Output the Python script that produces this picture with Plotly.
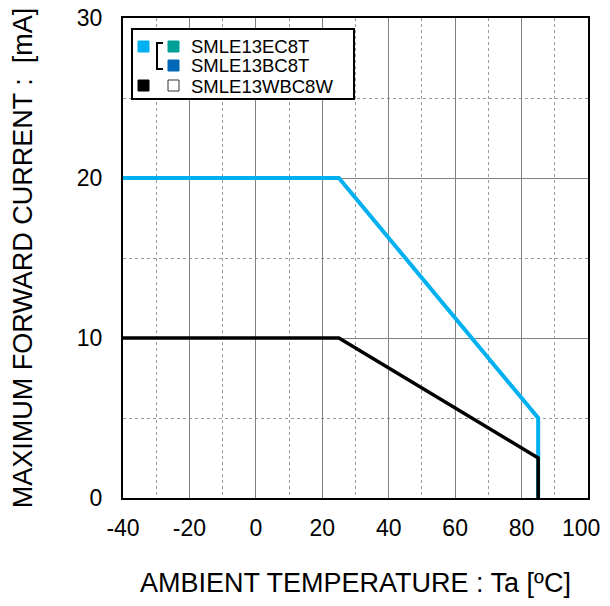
import plotly.graph_objects as go

temp_blue = [-40, 25, 85, 85]
current_blue = [20, 20, 5, 0]
temp_white = [-40, 25, 85, 85]
current_white = [10, 10, 2.5, 0]

x_ticks = [-40, -20, 0, 20, 40, 60, 80, 100]
x_ticktext = ["-40", "-20", "0", "20", "40", "60", "80", "100"]
y_ticks = [0, 10, 20, 30]
y_ticktext = ["0", "10", "20", "30"]

legend_labels = ["SMLE13EC8T", "SMLE13BC8T", "SMLE13WBC8W"]

BLUE = "#00B0F0"
TEAL = "#00A096"
DBLUE = "#0068B7"

fig = go.Figure()
fig.add_trace(go.Scatter(x=temp_blue, y=current_blue, mode="lines",
                         line=dict(color=BLUE, width=4), showlegend=False))
fig.add_trace(go.Scatter(x=temp_white, y=current_white, mode="lines",
                         line=dict(color="black", width=3.5), showlegend=False))

# page body has an 8px margin; figure is sized so the page does not overflow
OFF = 8
FW, FH = 610 - OFF, 606 - 2 * OFF
L, R, T, B = 123, 588, 18, 498  # plot area in window pixels
W, H = R - L, B - T
def px(x):
    return (x - L) / W
def py(y):
    return (B - y) / H

shapes = []
shapes.append(dict(type="rect", xref="paper", yref="paper", x0=px(132), x1=px(354),
                   y0=py(99), y1=py(29), line=dict(color="black", width=2), fillcolor="white", layer="above"))
def sq(x0, y0, color, line=None):
    shapes.append(dict(type="rect", xref="paper", yref="paper", x0=px(x0), x1=px(x0 + 11),
                       y0=py(y0 + 11), y1=py(y0), fillcolor=color,
                       line=dict(color=line or color, width=1), layer="above"))
sq(138, 41, BLUE)
sq(168, 41, TEAL)
sq(168, 60, DBLUE)
sq(138, 80, "black")
sq(168, 80, "white", "#333333")
shapes.append(dict(type="path", xref="paper", yref="paper",
                   path=f"M {px(163)} {py(43)} L {px(157)} {py(43)} L {px(157)} {py(69)} L {px(163)} {py(69)}",
                   line=dict(color="black", width=2), layer="above"))

annotations = []
for lab, yc in zip(legend_labels, [46, 66, 86]):
    annotations.append(dict(text=lab, xref="paper", yref="paper", x=px(189), y=py(yc),
                            xanchor="left", yanchor="middle", showarrow=False,
                            font=dict(size=18.5, color="black", family="Liberation Sans")))

# the last x tick label sits at the right window edge; draw it nudged inward so it is not clipped
tick_text_axis = x_ticktext[:-1] + [""]
annotations.append(dict(text=x_ticktext[-1], xref="x", yref="paper", x=x_ticks[-1], y=0,
                        xanchor="center", yanchor="middle", xshift=-7, yshift=-30, showarrow=False,
                        font=dict(size=23, color="black", family="Liberation Sans")))

fig.update_layout(
    width=FW, height=FH,
    margin=dict(l=L - OFF, r=610 - R, t=T - OFF, b=FH - (B - OFF), pad=0),
    plot_bgcolor="white", paper_bgcolor="white",
    font=dict(family="Liberation Sans", size=23, color="black"),
    shapes=shapes, annotations=annotations,
    xaxis=dict(range=[-40, 100], tickmode="array", tickvals=x_ticks, ticktext=tick_text_axis,
               showgrid=True, gridcolor="#808080", gridwidth=1,
               minor=dict(dtick=10, tick0=-30, showgrid=True, gridcolor="#999999", griddash="dot", gridwidth=1),
               showline=True, linecolor="black", linewidth=2, mirror=True, zeroline=False,
               ticks="", ticklabelstandoff=8, tickfont=dict(size=23), automargin=False,
               ticklabeloverflow="allow",
               title=dict(text="AMBIENT TEMPERATURE : Ta [ºC]", font=dict(size=27), standoff=36)),
    yaxis=dict(range=[0, 30], tickmode="array", tickvals=y_ticks, ticktext=y_ticktext,
               showgrid=True, gridcolor="#808080", gridwidth=1,
               minor=dict(dtick=5, showgrid=True, gridcolor="#999999", griddash="dot", gridwidth=1),
               showline=True, linecolor="black", linewidth=2, mirror=True, zeroline=False,
               ticks="", ticklabelstandoff=14, tickfont=dict(size=23), automargin=False,
               ticklabeloverflow="allow",
               title=dict(text="MAXIMUM FORWARD CURRENT :  [mA]", font=dict(size=27), standoff=40)),
)

fig.write_html("out.html")
